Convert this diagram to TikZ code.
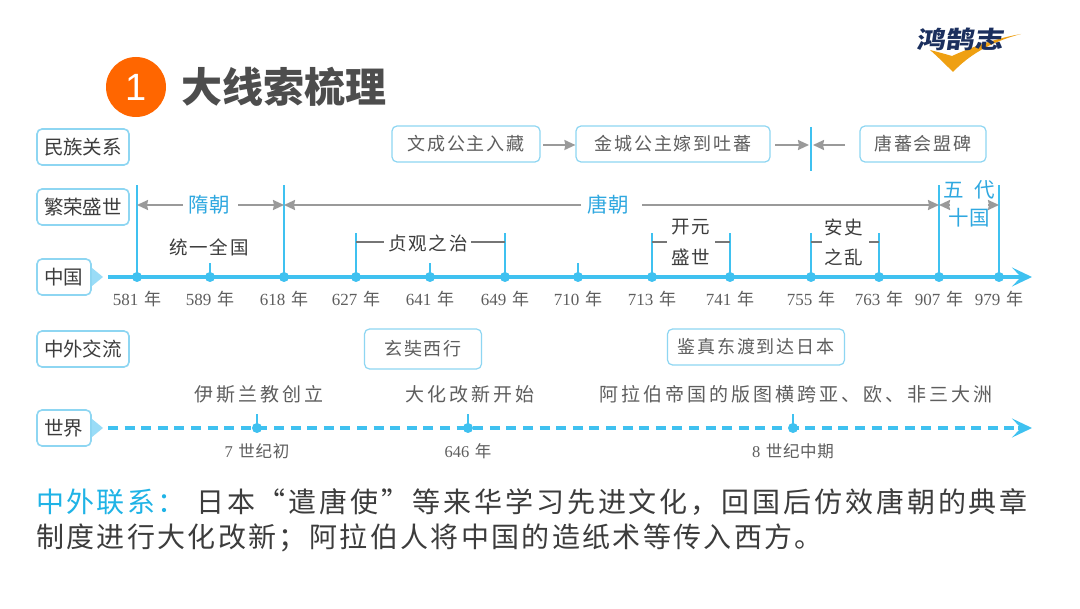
\documentclass[tikz,border=0pt]{standalone}
\usepackage{fontspec}
\usetikzlibrary{arrows.meta}
\setmainfont{Noto Sans CJK SC}
\newfontfamily\serfont{Liberation Serif}
\newfontfamily\arialfont{Liberation Sans}
\newfontfamily\spaced[LetterSpace=4]{Noto Sans CJK SC}
\newfontfamily\wide[LetterSpace=10]{Noto Sans CJK SC}
\newfontfamily\worldfont[LetterSpace=16]{Noto Sans CJK SC}
\newfontfamily\paraA[LetterSpace=10.4]{Noto Sans CJK SC}
\newfontfamily\paraB[LetterSpace=8.4]{Noto Sans CJK SC}
\newcommand{\sz}[1]{\fontsize{#1pt}{#1pt}\selectfont}
\newcommand{\yr}[2]{{\serfont #1}\,\,#2}
\definecolor{axisblue}{HTML}{3FC1F0}
\definecolor{boxblue}{HTML}{8ED6F2}
\definecolor{trifill}{HTML}{9ADCF7}
\definecolor{arrowgray}{HTML}{9A9A9A}
\definecolor{textdark}{HTML}{3C3C3C}
\definecolor{textgray}{HTML}{5E5E5E}
\definecolor{titlegray}{HTML}{4D4D4D}
\definecolor{handblue}{HTML}{2FA8E0}
\definecolor{linkblue}{HTML}{1FB3E6}
\definecolor{logonavy}{HTML}{1B2F5E}
\definecolor{logogold}{HTML}{EFA012}
\definecolor{badge}{HTML}{FF6600}
\tikzset{
  catbox/.style={draw=boxblue,line width=1.6pt,rounded corners=5pt,fill=white,inner sep=0pt,minimum height=36pt,text=textdark,font=\sz{19.5}},
  eventbox/.style={draw=boxblue,line width=1.2pt,rounded corners=5pt,fill=white,inner sep=0pt,minimum height=36pt,text=textgray,font=\sz{18}\wide},
  yearlabel/.style={inner sep=0pt,text=textgray,font=\sz{17}},
  eventlabel/.style={inner sep=0pt,text=textdark,font=\sz{18.5}\wide},
  worldlabel/.style={inner sep=0pt,text=textgray,font=\sz{19}\worldfont},
  handlabel/.style={inner sep=0pt,text=handblue,font=\sz{20.5}\spaced},
  axisline/.style={draw=axisblue,line width=3.4pt},
  tickline/.style={draw=axisblue,line width=1.7pt},
  grayarrow/.style={draw=arrowgray,line width=1.8pt,-{Stealth[length=11pt,width=10pt,inset=1pt]}},
  tagline/.style={draw=textgray!85,line width=1.5pt},
  dotmark/.style={circle,fill=axisblue,inner sep=0pt,minimum size=10pt},
  paratext/.style={inner sep=0pt,anchor=west,text=textdark},
}
\begin{document}
\begin{tikzpicture}[x=1pt,y=-1pt]
\useasboundingbox (0,0) rectangle (1080,609);
\fill[white] (0,0) rectangle (1080,609);

% logo
\fill[logogold] (930,50) .. controls (938,57) and (946,65) .. (953,72) .. controls (968,56) and (990,42) .. (1021,34) .. controls (998,38) and (974,46) .. (952,56) .. controls (945,54) and (938,52) .. (930,50) -- cycle;
\node[inner sep=0pt,text=logonavy,font=\sz{28}\bfseries,transform shape,xslant=0.15,yscale=0.85,xscale=1.03] (logotext) at (961,39) {鸿鹄志};

% title
\node[circle,fill=badge,minimum size=60pt,inner sep=0pt,text=white,font=\sz{38}\arialfont] (badgenode) at (136,87) {1};
\node[inner sep=0pt,anchor=west,text=titlegray,font=\sz{41}\bfseries] (titlenode) at (181,87) {大线索梳理};

% category boxes
\node[catbox,minimum width=92pt] (catA) at (83,147) {民族关系};
\node[catbox,minimum width=92pt] (catB) at (83,207) {繁荣盛世};
\node[catbox,minimum width=54pt] (catC) at (64,277) {中国};
\node[catbox,minimum width=92pt] (catD) at (83,349) {中外交流};
\node[catbox,minimum width=54pt] (catE) at (64,428) {世界};
\fill[trifill] (92,268) -- (103,277) -- (92,286) -- cycle;
\fill[trifill] (92,419) -- (103,428) -- (92,437) -- cycle;

% event boxes, upper row
\node[eventbox,minimum width=148pt] (evA) at (466,144) {文成公主入藏};
\node[eventbox,minimum width=194pt] (evB) at (673,144) {金城公主嫁到吐蕃};
\node[eventbox,minimum width=126pt] (evC) at (923,144) {唐蕃会盟碑};
\coordinate (markT) at (811,127);
\coordinate (markB) at (811,171);
\coordinate (markM) at (811,145);
\coordinate (evAout) at (543,145);
\coordinate (evBout) at (775,145);
\coordinate (evCout) at (845,145);
\draw[tickline] (markT) -- (markB);
\draw[grayarrow] (evAout) -- (evB.west |- evAout);
\draw[grayarrow] (evBout) -- ([xshift=-2pt]markM);
\draw[grayarrow] (evCout) -- ([xshift=2pt]markM);

% axis coordinates and ticks
\coordinate (axisS) at (108,277);
\coordinate (axisE) at (1032,277);
\draw[axisline,-{Stealth[length=20pt,width=19pt,inset=9pt]}] (axisS) -- (axisE);
\foreach \nm/\xx/\yy in {581/137/185,589/210/263,618/284/185,627/356/233,641/430/263,649/505/233,710/578/263,713/652/233,741/730/233,755/811/233,763/879/233,907/939/185,979/999/185}{
  \node[dotmark] (d\nm) at (\xx,277) {};
  \coordinate (u\nm) at (\xx,\yy);
  \draw[tickline] (d\nm.center) -- (u\nm);
  \node[yearlabel] (y\nm) at (\xx,299) {\yr{\nm}{年}};
}

% dynasty spans
\node[handlabel] (sui) at (209,205) {隋朝};
\node[handlabel] (tang) at (608,205) {唐朝};
\node[handlabel] (wdA) at (969,190) {五\ \ 代};
\node[handlabel] (wdB) at (969,218) {十国};
\coordinate (sA) at (183,205);
\coordinate (sB) at (238,205);
\coordinate (tA) at (581,205);
\coordinate (tB) at (642,205);
\coordinate (wA) at (950,205);
\coordinate (wB) at (988,205);
\draw[grayarrow] (sA) -- (u581 |- sA);
\draw[grayarrow] (sB) -- (u618 |- sB);
\draw[grayarrow] (tA) -- (u618 |- tA);
\draw[grayarrow] (tB) -- (u907 |- tB);
\draw[grayarrow] (wA) -- (u907 |- wA);
\draw[grayarrow] (wB) -- (u979 |- wB);

% period labels
\node[eventlabel] (unify) at (209,247) {统一全国};
\node[eventlabel] (zg) at (428,243) {贞观之治};
\node[eventlabel] (kyA) at (691,227) {开元};
\node[eventlabel] (kyB) at (691,257) {盛世};
\node[eventlabel] (asA) at (844,227) {安史};
\node[eventlabel] (asB) at (844,257) {之乱};
\coordinate (zgA) at (384,242);
\coordinate (zgB) at (471,242);
\coordinate (kyL) at (667,242);
\coordinate (kyR) at (715,242);
\coordinate (asL) at (822,242);
\coordinate (asR) at (869,242);
\draw[tagline] (u627 |- zgA) -- (zgA);
\draw[tagline] (zgB) -- (u649 |- zgB);
\draw[tagline] (u713 |- kyL) -- (kyL);
\draw[tagline] (kyR) -- (u741 |- kyR);
\draw[tagline] (u755 |- asL) -- (asL);
\draw[tagline] (asR) -- (u763 |- asR);

% event boxes, lower row
\node[eventbox,minimum width=117pt,minimum height=40pt] (evD) at (423,349) {玄奘西行};
\node[eventbox,minimum width=177pt] (evE) at (756,347) {鉴真东渡到达日本};

% world axis
\coordinate (wlS) at (108,428);
\coordinate (wlE) at (1032,428);
\draw[axisline,dash pattern=on 10pt off 6.6pt] (wlS) -- ([xshift=-14pt]wlE);
\draw[axisline,-{Stealth[length=20pt,width=19pt,inset=9pt]}] ([xshift=-14pt]wlE) -- (wlE);
\foreach \nm/\xx/\numtxt/\cjktxt in {wa/257/7/世纪初,wb/468/646/年,wc/793/8/世纪中期}{
  \node[dotmark] (d\nm) at (\xx,428) {};
  \coordinate (u\nm) at (\xx,414);
  \draw[tickline] (d\nm.center) -- (u\nm);
  \node[yearlabel,font=\sz{16.5}\spaced] (y\nm) at (\xx,451) {\yr{\numtxt}{\cjktxt}};
}
\node[worldlabel] (evF) at (259,394) {伊斯兰教创立};
\node[worldlabel] (evG) at (470,394) {大化改新开始};
\node[worldlabel] (evH) at (796,394) {阿拉伯帝国的版图横跨亚、欧、非三大洲};

% paragraph
\node[paratext,text=linkblue,font=\sz{28}\paraB] (paraHead) at (36,502) {中外联系：};
\node[paratext,font=\sz{28}\paraA] (paraLineA) at (196,502) {日本“遣唐使”等来华学习先进文化，回国后仿效唐朝的典章};
\node[paratext,font=\sz{28}\paraB] (paraLineB) at (36,538) {制度进行大化改新；阿拉伯人将中国的造纸术等传入西方。};
\end{tikzpicture}
\end{document}
